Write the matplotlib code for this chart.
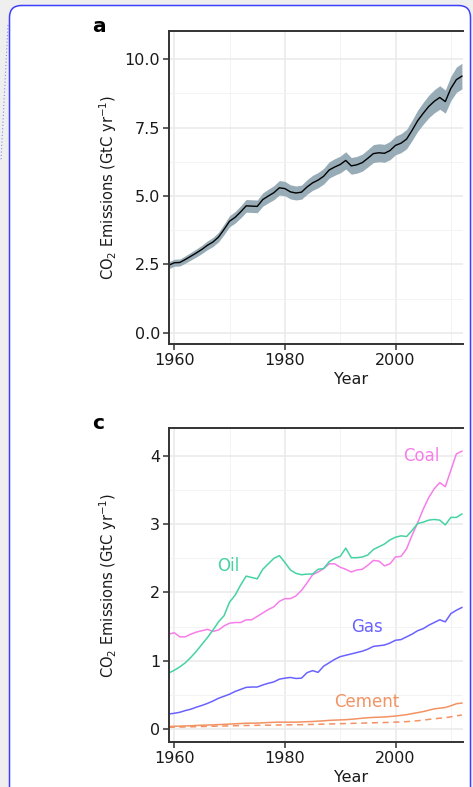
import matplotlib
matplotlib.use('Agg')

import matplotlib.pyplot as plt
import numpy as np
from matplotlib.patches import FancyBboxPatch
from matplotlib.lines import Line2D
from matplotlib.transforms import IdentityTransform
from matplotlib.ticker import MultipleLocator, FormatStrFormatter

years = np.arange(1959, 2013)

# total fossil fuel + cement emissions (GtC/yr)
total = [2.47, 2.56, 2.57, 2.68, 2.80, 2.92, 3.05, 3.20, 3.32, 3.50,
         3.78, 4.08, 4.22, 4.42, 4.64, 4.63, 4.62, 4.87, 5.00, 5.12,
         5.30, 5.27, 5.15, 5.11, 5.14, 5.33, 5.48, 5.58, 5.72, 5.95,
         6.06, 6.15, 6.30, 6.10, 6.14, 6.22, 6.38, 6.55, 6.58, 6.56,
         6.66, 6.85, 6.93, 7.08, 7.40, 7.75, 8.02, 8.27, 8.46, 8.60,
         8.45, 8.93, 9.25, 9.38]
total_unc = 0.05  # +/- fraction shown as the shaded band

coal = [1.39, 1.41, 1.35, 1.35, 1.39, 1.42, 1.44, 1.46, 1.43, 1.45,
        1.51, 1.55, 1.56, 1.56, 1.60, 1.60, 1.65, 1.70, 1.75, 1.79,
        1.87, 1.91, 1.91, 1.95, 2.03, 2.14, 2.26, 2.30, 2.35, 2.42,
        2.42, 2.37, 2.34, 2.30, 2.33, 2.34, 2.40, 2.47, 2.46, 2.39,
        2.42, 2.52, 2.53, 2.64, 2.84, 3.02, 3.22, 3.39, 3.52, 3.61,
        3.55, 3.79, 4.03, 4.07]
oil = [0.82, 0.86, 0.91, 0.97, 1.05, 1.14, 1.24, 1.34, 1.45, 1.57,
       1.66, 1.86, 1.96, 2.11, 2.24, 2.22, 2.20, 2.34, 2.42, 2.50,
       2.54, 2.44, 2.33, 2.28, 2.26, 2.27, 2.27, 2.34, 2.35, 2.45,
       2.50, 2.53, 2.65, 2.51, 2.51, 2.52, 2.55, 2.63, 2.67, 2.71,
       2.77, 2.81, 2.83, 2.82, 2.91, 3.01, 3.03, 3.06, 3.07, 3.06,
       2.99, 3.10, 3.10, 3.15]
gas = [0.22, 0.23, 0.245, 0.27, 0.29, 0.32, 0.345, 0.375, 0.41, 0.45,
       0.48, 0.51, 0.55, 0.58, 0.61, 0.615, 0.615, 0.645, 0.67, 0.69,
       0.73, 0.745, 0.755, 0.74, 0.745, 0.825, 0.855, 0.83, 0.92, 0.97,
       1.02, 1.06, 1.08, 1.10, 1.12, 1.14, 1.17, 1.21, 1.22, 1.23,
       1.26, 1.30, 1.31, 1.35, 1.39, 1.44, 1.47, 1.52, 1.56, 1.60,
       1.57, 1.69, 1.74, 1.78]
cement = [0.035, 0.040, 0.042, 0.045, 0.048, 0.052, 0.055, 0.058, 0.060, 0.064,
          0.068, 0.072, 0.076, 0.080, 0.085, 0.085, 0.087, 0.090, 0.095, 0.098,
          0.100, 0.100, 0.100, 0.100, 0.103, 0.107, 0.110, 0.115, 0.120, 0.126,
          0.130, 0.133, 0.136, 0.142, 0.150, 0.158, 0.165, 0.170, 0.173, 0.176,
          0.183, 0.190, 0.200, 0.210, 0.225, 0.240, 0.255, 0.275, 0.295, 0.305,
          0.315, 0.340, 0.370, 0.380]
cement_alt = [0.025, 0.027, 0.028, 0.030, 0.032, 0.034, 0.036, 0.038, 0.040, 0.042,
              0.044, 0.046, 0.048, 0.050, 0.052, 0.053, 0.054, 0.055, 0.056, 0.057,
              0.058, 0.060, 0.061, 0.062, 0.063, 0.065, 0.067, 0.069, 0.071, 0.073,
              0.075, 0.078, 0.080, 0.082, 0.084, 0.086, 0.089, 0.091, 0.093, 0.095,
              0.097, 0.100, 0.104, 0.108, 0.114, 0.121, 0.130, 0.140, 0.150, 0.158,
              0.165, 0.178, 0.192, 0.205]

fuel_names = ['Coal', 'Oil', 'Gas', 'Cement']
fuel_colors = ['#f77ee9', '#45d3a3', '#6a62ff', '#f39262']
# label anchor (year, value) for each fuel
fuel_label_pos = [(2004.7, 4.0), (1969.8, 2.39), (1994.8, 1.49), (1994.8, 0.395)]

W, H = 473, 787
fig = plt.figure(figsize=(W / 100, H / 100), dpi=100)
fig.patch.set_facecolor('#efefef')

# white card with blue outline
card = FancyBboxPatch((9.5, -200), 461, H - 5.5 + 200,
                      boxstyle='round,pad=0,rounding_size=12',
                      transform=IdentityTransform(), facecolor='white',
                      edgecolor='#3f3fff', linewidth=1.1, zorder=-5)
fig.add_artist(card)
fig.add_artist(Line2D([8, 1], [H - 25, H - 160], transform=IdentityTransform(),
                      color='#5a5aff', lw=0.8, ls=(0, (1, 2)), alpha=0.7))

left, right = 169.3, 463.0


def make_axes(top, bottom):
    ax = fig.add_axes([left / W, 1 - bottom / H, (right - left) / W, (bottom - top) / H])
    ax.set_facecolor('white')
    for side in ['left', 'bottom', 'top']:
        ax.spines[side].set_color('#333333')
        ax.spines[side].set_linewidth(1.4)
    ax.spines['right'].set_visible(False)
    ax.set_xlim(1959.1, 2012.2)
    ax.xaxis.set_major_locator(MultipleLocator(20))
    ax.xaxis.set_minor_locator(MultipleLocator(10))
    ax.grid(which='major', color='#e9e9e9', lw=1.1)
    ax.grid(which='minor', color='#f3f3f3', lw=0.7)
    ax.set_axisbelow(True)
    ax.tick_params(which='major', length=4.5, width=1.1, color='#333333',
                   labelsize=11.5, labelcolor='#1a1a1a', pad=2)
    ax.tick_params(which='minor', length=0)
    ax.set_xlabel('Year', fontsize=11.5, color='#1a1a1a', va='baseline')
    ax.xaxis.set_label_coords((350.7 - left) / (right - left), -40 / (bottom - top))
    ax.set_ylabel(r'CO$_2$ Emissions (GtC yr$^{-1}$)', fontsize=10.5,
                  color='#1a1a1a', va='baseline')
    ax.yaxis.set_label_coords((114 - left) / (right - left), 0.5)
    return ax


# a: total emissions with uncertainty band
ax1 = make_axes(31, 344.3)
tot = np.array(total)
ax1.fill_between(years, tot * (1 - total_unc), tot * (1 + total_unc),
                 color='#97acb6', lw=0)
ax1.plot(years, tot, color='black', lw=1.0)
ax1.set_ylim(-0.42, 11.03)
ax1.yaxis.set_major_locator(MultipleLocator(2.5))
ax1.yaxis.set_minor_locator(MultipleLocator(1.25))
ax1.yaxis.set_major_formatter(FormatStrFormatter('%.1f'))
fig.text(99 / W, 1 - 26 / H, 'a', fontsize=14.5, fontweight='bold', ha='center', va='center')

# c: emissions by fuel type
ax2 = make_axes(428, 742.3)
for name, vals, col, (lx, ly) in zip(fuel_names, [coal, oil, gas, cement],
                                     fuel_colors, fuel_label_pos):
    ax2.plot(years, vals, color=col, lw=1.1)
    ax2.text(lx, ly, name, color=col, fontsize=12, ha='center', va='center')
ax2.plot(years, cement_alt, color=fuel_colors[3], lw=1.1, ls=(0, (4, 3)))
ax2.set_ylim(-0.195, 4.41)
ax2.yaxis.set_major_locator(MultipleLocator(1))
ax2.yaxis.set_minor_locator(MultipleLocator(0.5))
fig.text(98 / W, 1 - 423.5 / H, 'c', fontsize=14.5, fontweight='bold', ha='center', va='center')

fig.savefig('out.png', dpi=100, facecolor=fig.get_facecolor())
